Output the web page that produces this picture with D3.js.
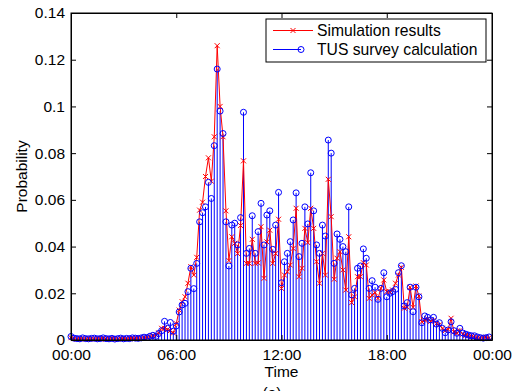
<!DOCTYPE html>
<html>
<head>
<meta charset="utf-8">
<script src="https://cdn.jsdelivr.net/npm/d3@7"></script>
<style>
  body { margin: 0; background: #fff; }
  text { font-family: "Liberation Sans", Arial, sans-serif; }
</style>
</head>
<body>
<div id="chart-area"></div>
<script>
var width = 519;
var height = 391;

// x axis tick labels (every 6 hours)
var tickLabels = ["00:00", "06:00", "12:00", "18:00", "00:00"];

// TUS survey calculation, one value per 10 minutes (144 slots)
var tusValues = [
  0.0015, 0.0008, 0.0006, 0.0005, 0.0009, 0.0006, 0.0005, 0.0007, 0.0008, 0.0005,
  0.0006, 0.0009, 0.0006, 0.0005, 0.0007, 0.0004, 0.0006, 0.0008, 0.0005, 0.0007,
  0.0006, 0.0009, 0.0008, 0.0007, 0.0009, 0.0012, 0.0010, 0.0016, 0.0020, 0.0015,
  0.0028, 0.0040, 0.0080, 0.0050, 0.0075, 0.0038, 0.0060, 0.0120, 0.0150, 0.0157,
  0.0207, 0.0307, 0.0220, 0.0328, 0.0506, 0.0545, 0.0570, 0.0675, 0.0606, 0.0832,
  0.1160, 0.0980, 0.0884, 0.0506, 0.0317, 0.0492, 0.0500, 0.0407, 0.0524, 0.0975,
  0.0371, 0.0392, 0.0532, 0.0371, 0.0464, 0.0585, 0.0407, 0.0535, 0.0553, 0.0388,
  0.0492, 0.0632, 0.0245, 0.0335, 0.0371, 0.0421, 0.0514, 0.0630, 0.0357, 0.0414,
  0.0570, 0.0497, 0.0716, 0.0553, 0.0407, 0.0371, 0.0492, 0.0445, 0.0856, 0.0800,
  0.0328, 0.0454, 0.0431, 0.0400, 0.0378, 0.0570, 0.0193, 0.0221, 0.0307, 0.0317,
  0.0390, 0.0350, 0.0221, 0.0254, 0.0226, 0.0174, 0.0221, 0.0288, 0.0185, 0.0200,
  0.0207, 0.0217, 0.0288, 0.0318, 0.0146, 0.0160, 0.0226, 0.0121, 0.0226, 0.0185,
  0.0074, 0.0103, 0.0097, 0.0086, 0.0097, 0.0068, 0.0074, 0.0050, 0.0031, 0.0043,
  0.0078, 0.0040, 0.0029, 0.0050, 0.0030, 0.0025, 0.0021, 0.0018, 0.0018, 0.0013,
  0.0010, 0.0008, 0.0010, 0.0013
];

// Simulation results, same 144 slots
var simValues = [
  0.0010, 0.0006, 0.0004, 0.0007, 0.0005, 0.0004, 0.0006, 0.0005, 0.0004, 0.0006,
  0.0005, 0.0007, 0.0004, 0.0006, 0.0005, 0.0006, 0.0004, 0.0006, 0.0007, 0.0005,
  0.0006, 0.0007, 0.0006, 0.0008, 0.0007, 0.0010, 0.0012, 0.0015, 0.0018, 0.0022,
  0.0030, 0.0050, 0.0050, 0.0045, 0.0040, 0.0030, 0.0070, 0.0128, 0.0164, 0.0185,
  0.0243, 0.0314, 0.0278, 0.0354, 0.0556, 0.0590, 0.0700, 0.0780, 0.0680, 0.0870,
  0.1260, 0.1000, 0.0870, 0.0553, 0.0340, 0.0442, 0.0414, 0.0370, 0.0490, 0.0767,
  0.0328, 0.0328, 0.0431, 0.0328, 0.0330, 0.0485, 0.0264, 0.0420, 0.0470, 0.0328,
  0.0370, 0.0517, 0.0221, 0.0278, 0.0292, 0.0321, 0.0392, 0.0564, 0.0271, 0.0307,
  0.0478, 0.0417, 0.0564, 0.0478, 0.0335, 0.0243, 0.0371, 0.0278, 0.0688, 0.0528,
  0.0260, 0.0350, 0.0378, 0.0300, 0.0214, 0.0442, 0.0160, 0.0185, 0.0271, 0.0271,
  0.0331, 0.0321, 0.0178, 0.0193, 0.0203, 0.0178, 0.0221, 0.0257, 0.0207, 0.0207,
  0.0214, 0.0243, 0.0278, 0.0311, 0.0136, 0.0141, 0.0226, 0.0140, 0.0231, 0.0188,
  0.0078, 0.0085, 0.0090, 0.0080, 0.0085, 0.0070, 0.0065, 0.0050, 0.0040, 0.0045,
  0.0093, 0.0035, 0.0030, 0.0040, 0.0025, 0.0020, 0.0018, 0.0015, 0.0012, 0.0010,
  0.0008, 0.0010, 0.0012, 0.0010
];

// y axis ticks
var yTicks = [0, 0.02, 0.04, 0.06, 0.08, 0.1, 0.12, 0.14];

// plot box
var plotLeft = 71, plotRight = 492, plotTop = 13, plotBottom = 340;

var svg = d3.select("#chart-area")
  .append("svg")
  .attr("width", width)
  .attr("height", height);

// minutes of the day for each slot
var data = tusValues.map(function(v, i) {
  return { t: i * 10, tus: v, sim: simValues[i] };
});

var x = d3.scaleLinear()
  .domain([0, 1440])
  .range([plotLeft, plotRight]);

var y = d3.scaleLinear()
  .domain([0, 0.14])
  .range([plotBottom, plotTop]);

var tickMinutes = tickLabels.map(function(d, i) { return i * 360; });

//  Stems
svg.append("g")
  .selectAll("line")
  .data(data)
  .enter()
  .append("line")
  .attr("x1", function(d) { return x(d.t); })
  .attr("x2", function(d) { return x(d.t); })
  .attr("y1", y(0))
  .attr("y2", function(d) { return y(d.tus); })
  .attr("stroke", "#0000ff")
  .attr("stroke-width", 1);

//  Simulation line
var line = d3.line()
  .x(function(d) { return x(d.t); })
  .y(function(d) { return y(d.sim); });

svg.append("path")
  .datum(data)
  .attr("d", line)
  .attr("fill", "none")
  .attr("stroke", "#ff0000")
  .attr("stroke-width", 1);

var s = 2.5;
svg.append("g")
  .selectAll("path")
  .data(data)
  .enter()
  .append("path")
  .attr("d", function(d) {
    var cx = x(d.t), cy = y(d.sim);
    return "M" + (cx - s) + "," + (cy - s) + "L" + (cx + s) + "," + (cy + s) +
      "M" + (cx - s) + "," + (cy + s) + "L" + (cx + s) + "," + (cy - s);
  })
  .attr("stroke", "#ff0000")
  .attr("stroke-width", 1);

//  Stem markers
svg.append("g")
  .selectAll("circle")
  .data(data)
  .enter()
  .append("circle")
  .attr("cx", function(d) { return x(d.t); })
  .attr("cy", function(d) { return y(d.tus); })
  .attr("r", 3)
  .attr("fill", "none")
  .attr("stroke", "#0000ff")
  .attr("stroke-width", 1);

//  Axes (ticks inside, box)
var xAxis = d3.axisBottom(x)
  .tickValues(tickMinutes)
  .tickFormat(function(d, i) { return tickLabels[i]; })
  .tickSizeInner(-5).tickSizeOuter(0).tickPadding(9);

var yAxis = d3.axisLeft(y)
  .tickValues(yTicks)
  .tickFormat(function(d) { return d === 0 ? "0" : String(+d.toFixed(2)); })
  .tickSizeInner(-5).tickSizeOuter(0).tickPadding(6);

svg.append("g")
  .attr("transform", "translate(0," + plotBottom + ")")
  .call(xAxis);

svg.append("g")
  .attr("transform", "translate(" + plotLeft + ",0)")
  .call(yAxis);

svg.append("g")
  .attr("transform", "translate(0," + plotTop + ")")
  .call(d3.axisTop(x).tickValues(tickMinutes).tickFormat("").tickSizeInner(-5).tickSizeOuter(0));

svg.append("g")
  .attr("transform", "translate(" + plotRight + ",0)")
  .call(d3.axisRight(y).tickValues(yTicks).tickFormat("").tickSizeInner(-5).tickSizeOuter(0));

svg.selectAll(".domain").attr("stroke", "#000").attr("stroke-width", 1);
svg.selectAll(".tick line").attr("stroke", "#000");
svg.selectAll(".tick text")
  .attr("fill", "#000")
  .style("font-size", "15.5px");

svg.append("rect")
  .attr("x", plotLeft).attr("y", plotTop)
  .attr("width", plotRight - plotLeft).attr("height", plotBottom - plotTop)
  .attr("fill", "none").attr("stroke", "#000").attr("stroke-width", 1);

//  Axis labels
svg.append("text")
  .attr("x", (plotLeft + plotRight) / 2)
  .attr("y", 377)
  .attr("text-anchor", "middle")
  .style("font-size", "15.5px")
  .text("Time");

svg.append("text")
  .attr("transform", "translate(27," + (plotTop + plotBottom) / 2 + ") rotate(-90)")
  .attr("text-anchor", "middle")
  .style("font-size", "15.5px")
  .text("Probability");

svg.append("text")
  .attr("x", 272)
  .attr("y", 398)
  .attr("text-anchor", "middle")
  .style("font-size", "15.5px")
  .text("(a)");

//  Legend
var legend = svg.append("g");
legend.append("rect")
  .attr("x", 266).attr("y", 19)
  .attr("width", 220).attr("height", 43)
  .attr("fill", "#fff").attr("stroke", "#000").attr("stroke-width", 1);

legend.append("line")
  .attr("x1", 273).attr("x2", 313).attr("y1", 30.5).attr("y2", 30.5)
  .attr("stroke", "#ff0000");
legend.append("path")
  .attr("d", "M" + (293 - s) + "," + (30.5 - s) + "L" + (293 + s) + "," + (30.5 + s) +
    "M" + (293 - s) + "," + (30.5 + s) + "L" + (293 + s) + "," + (30.5 - s))
  .attr("stroke", "#ff0000");
legend.append("text")
  .attr("x", 317).attr("y", 36)
  .style("font-size", "15.7px")
  .text("Simulation results");

legend.append("line")
  .attr("x1", 273).attr("x2", 301).attr("y1", 49.5).attr("y2", 49.5)
  .attr("stroke", "#0000ff");
legend.append("circle")
  .attr("cx", 301).attr("cy", 49.5).attr("r", 3)
  .attr("fill", "none").attr("stroke", "#0000ff");
legend.append("text")
  .attr("x", 317).attr("y", 55)
  .style("font-size", "15.7px")
  .text("TUS survey calculation");
</script>
</body>
</html>
